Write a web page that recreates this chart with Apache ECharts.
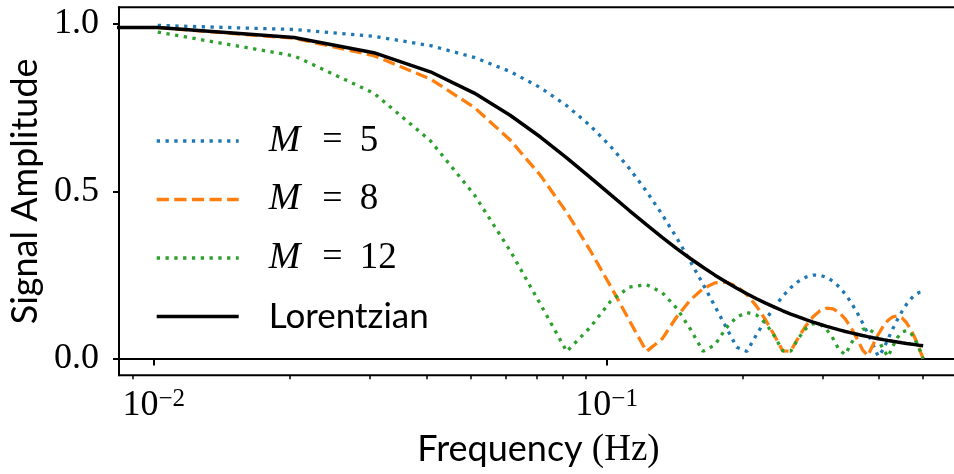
<!DOCTYPE html>
<html>
<head>
<meta charset="utf-8">
<script src="https://cdn.jsdelivr.net/npm/echarts@6/dist/echarts.min.js"></script>
<style>
html,body{margin:0;padding:0;background:#ffffff;}
#chart{width:954px;height:474px;}
</style>
</head>
<body>
<div id="chart"></div>
<script>
// Frequencies (Hz): 49 evenly spaced samples up to 0.5 Hz
const freq = [0.010204,0.020408,0.030612,0.040816,0.051020,0.061224,0.071429,0.081633,0.091837,0.102041,
  0.112245,0.122449,0.132653,0.142857,0.153061,0.163265,0.173469,0.183673,0.193878,0.204082,
  0.214286,0.224490,0.234694,0.244898,0.255102,0.265306,0.275510,0.285714,0.295918,0.306122,
  0.316327,0.326531,0.336735,0.346939,0.357143,0.367347,0.377551,0.387755,0.397959,0.408163,
  0.418367,0.428571,0.438776,0.448980,0.459184,0.469388,0.479592,0.489796,0.500000];

const ampM5 = [0.9959,0.9836,0.9634,0.9355,0.9002,0.8581,0.8098,0.7559,0.6972,0.6344,
  0.5684,0.5002,0.4305,0.3604,0.2907,0.2223,0.1562,0.0930,0.0336,0.0214,
  0.0714,0.1158,0.1542,0.1864,0.2120,0.2310,0.2435,0.2494,0.2491,0.2427,
  0.2308,0.2139,0.1924,0.1670,0.1384,0.1073,0.0745,0.0407,0.0068,0.0267,
  0.0588,0.0890,0.1166,0.1409,0.1616,0.1781,0.1902,0.1975,0.2000];

const ampM8 = [0.9892,0.9574,0.9056,0.8359,0.7508,0.6536,0.5477,0.4369,0.3252,0.2164,
  0.1141,0.0213,0.0590,0.1250,0.1752,0.2089,0.2263,0.2281,0.2157,0.1911,
  0.1567,0.1153,0.0698,0.0230,0.0223,0.0634,0.0982,0.1250,0.1426,0.1505,
  0.1485,0.1372,0.1177,0.0914,0.0602,0.0261,0.0086,0.0420,0.0719,0.0965,
  0.1146,0.1250,0.1273,0.1214,0.1078,0.0874,0.0615,0.0317,0.0000];

const ampM12 = [0.9757,0.9049,0.7936,0.6513,0.4900,0.3227,0.1625,0.0211,0.0923,0.1714,
  0.2139,0.2210,0.1974,0.1502,0.0884,0.0217,0.0408,0.0914,0.1246,0.1375,
  0.1303,0.1054,0.0676,0.0229,0.0222,0.0614,0.0898,0.1039,0.1027,0.0869,
  0.0595,0.0247,0.0122,0.0461,0.0723,0.0874,0.0895,0.0787,0.0569,0.0274,
  0.0055,0.0371,0.0629,0.0792,0.0840,0.0766,0.0581,0.0313,0.0000];

// Lorentzian: first point sits left of the visible range (flat run at the left edge)
const lorentzFreq = [0.001].concat(freq);
const ampLorentz = [0.9897,
  0.9897,0.9600,0.9143,0.8572,0.7935,0.7274,0.6622,0.6001,0.5425,0.4899,
  0.4425,0.4001,0.3624,0.3289,0.2992,0.2728,0.2494,0.2286,0.2101,0.1936,
  0.1788,0.1656,0.1537,0.1429,0.1332,0.1244,0.1164,0.1091,0.1025,0.0964,
  0.0909,0.0858,0.0810,0.0767,0.0727,0.0690,0.0656,0.0624,0.0594,0.0566,
  0.0540,0.0516,0.0494,0.0473,0.0453,0.0434,0.0417,0.0400,0.0385];

const seriesNames = ['M = 5','M = 8','M = 12','Lorentzian'];
const xMajorTicks = [0.01, 0.1];
const xMinorTicks = [0.009,0.02,0.03,0.04,0.05,0.06,0.07,0.08,0.09,0.2,0.3,0.4,0.5];
const yTicks = [0, 0.5, 1.0];

const SERIF = '"Liberation Serif", "DejaVu Serif", serif';
const SANS = 'Lato, "DejaVu Sans", sans-serif';
const X_MIN = 0.00838, X_MAX = 0.597;

function pairs(xs, ys){ return xs.map((x,i)=>[x, ys[i]]); }

const chart = echarts.init(document.getElementById('chart'), null, {renderer:'canvas'});
chart.setOption({
  animation: false,
  backgroundColor: '#ffffff',
  grid: {left:119, top:7.3, width:839, height:368, containLabel:false, outerBoundsMode:'none',
         show:true, borderColor:'#000', borderWidth:2, backgroundColor:'transparent'},
  xAxis: [{
    type:'log', logBase:10, min:X_MIN, max:X_MAX, position:'bottom',
    splitLine:{show:false}, minorTick:{show:false}, minorSplitLine:{show:false},
    axisLine:{show:true, lineStyle:{color:'#000', width:2}},
    axisTick:{show:true, length:7, lineStyle:{color:'#000', width:2}, customValues:xMajorTicks},
    axisLabel:{
      customValues:xMajorTicks, margin:12, color:'#000', fontFamily:SERIF, fontSize:36,
      formatter: v => '10{sup|−' + Math.round(-Math.log10(v)) + '}',
      rich:{sup:{fontFamily:SERIF, fontSize:25, verticalAlign:'top', color:'#000'}}
    },
    name:'{s|Frequency }{m|(Hz)}', nameLocation:'middle', nameGap:56,
    nameTextStyle:{color:'#000', rich:{
      s:{fontFamily:SANS, fontSize:36, color:'#000'},
      m:{fontFamily:SERIF, fontSize:37, color:'#000'}
    }}
  },{
    type:'log', logBase:10, min:X_MIN, max:X_MAX, position:'bottom', offset:0,
    splitLine:{show:false}, axisLine:{show:false}, axisLabel:{show:false},
    axisTick:{show:true, length:4, lineStyle:{color:'#000', width:1.5}, customValues:xMinorTicks}
  }],
  yAxis: {
    type:'value', min:-0.05, max:1.05, splitLine:{show:false},
    axisLine:{show:true, lineStyle:{color:'#000', width:2}},
    axisTick:{show:true, length:6, lineStyle:{color:'#000', width:2}, customValues:yTicks},
    axisLabel:{customValues:yTicks, formatter: v => v.toFixed(1), color:'#000', fontFamily:SERIF, fontSize:36, margin:20},
    name:'Signal Amplitude', nameLocation:'middle', nameGap:70,
    nameTextStyle:{fontFamily:SANS, fontSize:36, color:'#000'}
  },
  legend: {
    orient:'vertical', left:155, top:121, padding:0,
    itemWidth:82, itemHeight:14, itemGap:18.5,
    itemStyle:{opacity:0},
    lineStyle:{width:3.4},
    data: seriesNames,
    formatter: name => name.charAt(0) === 'M'
      ? '{g|}{mi|M}{eq|=}{r|' + name.split('= ')[1] + '}'
      : '{g|}{s|' + name + '}',
    textStyle:{color:'#000', fontSize:36, lineHeight:40, rich:{
      g:{width:25},
      mi:{fontFamily:SERIF, fontStyle:'italic', fontSize:38, lineHeight:40, color:'#000'},
      eq:{fontFamily:SERIF, fontSize:36, lineHeight:40, color:'#000', padding:[0,17,0,22]},
      r:{fontFamily:SERIF, fontSize:37, lineHeight:40, color:'#000'},
      s:{fontFamily:SANS, fontSize:35, lineHeight:40, color:'#000'}
    }}
  },
  series: [
    {type:'line', name:seriesNames[0], data:pairs(freq, ampM5), symbol:'none', showSymbol:false,
     lineStyle:{color:'#1f77b4', width:3.3, type:[3.3,5.5], cap:'butt'}, itemStyle:{color:'#1f77b4'}},
    {type:'line', name:seriesNames[1], data:pairs(freq, ampM8), symbol:'none', showSymbol:false,
     lineStyle:{color:'#ff7f0e', width:3.3, type:[12.2,5.4], cap:'butt'}, itemStyle:{color:'#ff7f0e'}},
    {type:'line', name:seriesNames[2], data:pairs(freq, ampM12), symbol:'none', showSymbol:false,
     lineStyle:{color:'#2ca02c', width:3.3, type:[3.3,5.5], cap:'butt'}, itemStyle:{color:'#2ca02c'}},
    {type:'line', name:seriesNames[3], data:pairs(lorentzFreq, ampLorentz), symbol:'none', showSymbol:false, clip:true,
     lineStyle:{color:'#000', width:3.5, type:'solid'}, itemStyle:{color:'#000'}}
  ]
});
</script>
</body>
</html>
